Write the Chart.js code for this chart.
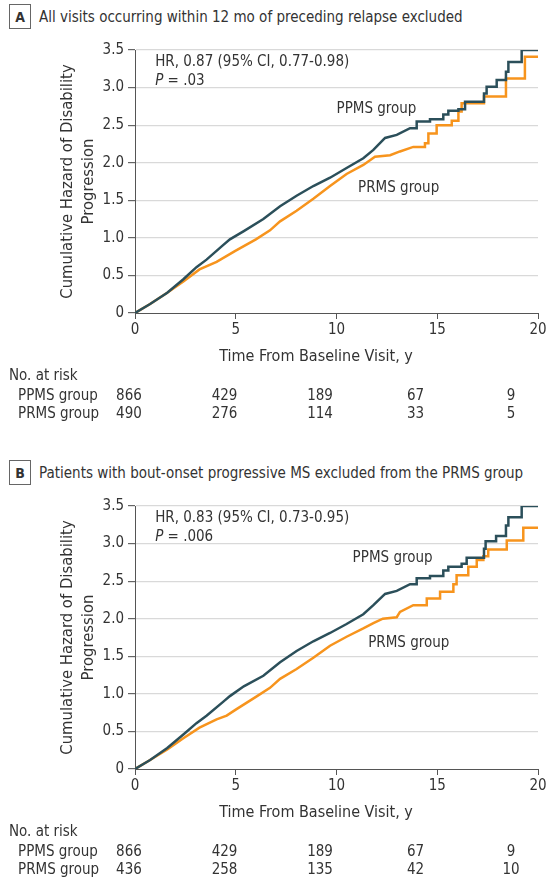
<!DOCTYPE html>
<html lang="en">
<head>
  <meta charset="utf-8">
  <title>Cumulative Hazard of Disability Progression</title>
  <script src="https://cdn.jsdelivr.net/npm/chart.js"></script>
  <style>
    body { margin: 0; width: 550px; height: 884px; background: #fff; color: #333; font-family: 'DejaVu Sans Condensed', 'DejaVu Sans', sans-serif; position: relative; overflow: hidden; }
    .panel { position: absolute; left: 0; width: 550px; height: 456px; }
    .panel canvas { position: absolute; left: 0; top: 0; }
    .head { position: absolute; left: 9px; top: 4px; height: 25px; display: flex; align-items: center; font-size: 15px; white-space: nowrap; }
    .tag { box-sizing: border-box; width: 22px; height: 25px; border: 1px solid #666; font-weight: bold; font-size: 14px; display: flex; align-items: center; justify-content: center; margin-right: 8px; }
  </style>
</head>
<body>
<div class="panel" style="top:0">
  <div class="head"><span class="tag">A</span>All visits occurring within 12 mo of preceding relapse excluded</div>
  <canvas id="chartA" width="550" height="456"></canvas>
</div>
<div class="panel" style="top:456px">
  <div class="head"><span class="tag">B</span>Patients with bout-onset progressive MS excluded from the PRMS group</div>
  <canvas id="chartB" width="550" height="456"></canvas>
</div>

<script>
// panel A: all visits within 12 mo of preceding relapse excluded
const ppmsA_t = [0, 0.75, 1.6, 2.4, 3.05, 3.55, 4.4, 4.71, 5.4, 6.37, 7.2, 8.02, 8.85, 9.68, 10.5, 11.33, 11.83, 12.41, 12.99, 13.65, 13.98, 14.64, 15.3, 15.55, 16.05, 16.38, 17.32, 17.45, 17.95, 18.41, 18.53, 19.19, 20];
const ppmsA_h = [0, 0.12, 0.27, 0.45, 0.61, 0.71, 0.91, 0.98, 1.09, 1.25, 1.42, 1.56, 1.69, 1.80, 1.93, 2.06, 2.17, 2.33, 2.37, 2.46, 2.55, 2.58, 2.64, 2.69, 2.71, 2.81, 2.92, 3.01, 3.10, 3.21, 3.34, 3.50, 3.50];
const prmsA_t = [0, 0.75, 1.6, 2.4, 3.2, 4.05, 5.0, 6.0, 6.7, 7.2, 8.02, 8.85, 9.68, 10.5, 11.33, 11.91, 12.66, 13.15, 13.81, 14.39, 14.56, 14.97, 15.72, 16.05, 16.21, 17.32, 18.41, 19.35, 20];
const prmsA_h = [0, 0.12, 0.27, 0.42, 0.58, 0.68, 0.83, 0.98, 1.10, 1.22, 1.36, 1.52, 1.69, 1.85, 1.97, 2.08, 2.10, 2.15, 2.21, 2.26, 2.39, 2.50, 2.56, 2.68, 2.79, 2.88, 3.12, 3.41, 3.41];

// panel B: bout-onset progressive MS excluded from PRMS
const ppmsB_t = [0, 0.75, 1.6, 2.4, 3.05, 3.55, 4.4, 4.71, 5.4, 6.37, 7.2, 8.02, 8.85, 9.68, 10.5, 11.33, 11.83, 12.41, 12.99, 13.65, 13.98, 14.64, 15.3, 15.55, 16.21, 16.46, 17.32, 17.4, 17.92, 18.41, 18.53, 19.19, 20];
const ppmsB_h = [0, 0.12, 0.28, 0.46, 0.61, 0.71, 0.90, 0.97, 1.10, 1.24, 1.42, 1.57, 1.70, 1.81, 1.93, 2.06, 2.18, 2.33, 2.37, 2.46, 2.54, 2.57, 2.64, 2.69, 2.73, 2.81, 2.93, 3.03, 3.10, 3.24, 3.35, 3.50, 3.50];
const prmsB_t = [0, 0.75, 1.6, 2.4, 3.2, 4.05, 4.55, 5.0, 6.0, 6.7, 7.2, 8.02, 8.85, 9.68, 10.5, 11.33, 11.83, 12.3, 12.99, 13.15, 13.81, 14.48, 15.14, 15.8, 15.96, 16.54, 16.96, 17.29, 17.53, 18.45, 19.27, 20];
const prmsB_h = [0, 0.12, 0.26, 0.41, 0.55, 0.66, 0.71, 0.79, 0.96, 1.08, 1.20, 1.33, 1.48, 1.64, 1.76, 1.87, 1.94, 2.00, 2.02, 2.09, 2.18, 2.27, 2.36, 2.46, 2.58, 2.69, 2.78, 2.83, 2.92, 3.04, 3.21, 3.21];

// number at risk
const riskTimes = [0, 5, 10, 15, 20];
const ppmsRiskA = [866, 429, 189, 67, 9];
const prmsRiskA = [490, 276, 114, 33, 5];
const ppmsRiskB = [866, 429, 189, 67, 9];
const prmsRiskB = [436, 258, 135, 42, 10];

const xTicks = [0, 5, 10, 15, 20];
const yTicks = [0, 0.5, 1.0, 1.5, 2.0, 2.5, 3.0, 3.5];

const FONT = "'DejaVu Sans Condensed', 'DejaVu Sans', sans-serif";
const TXT = '#333';
const PPMS_COLOR = '#2b4f5a';
const PRMS_COLOR = '#f7941d';

// linear through the dense early part, explicit steps once events thin out
function curve(t, h, stepFrom) {
  const pts = [];
  for (let i = 0; i < t.length; i++) {
    if (i > 0 && t[i] > stepFrom) pts.push({ x: t[i], y: h[i - 1] });
    pts.push({ x: t[i], y: h[i] });
  }
  return pts;
}

function makePanel(id, ppmsT, ppmsH, prmsT, prmsH, info) {
  const overlay = {
    id: 'overlay',
    afterDraw(chart) {
      const c = chart.ctx, x = chart.scales.x, y = chart.scales.y;
      const area = chart.chartArea;
      c.save();
      c.fillStyle = TXT;
      c.textBaseline = 'middle';
      c.font = '15px ' + FONT;

      // HR / P annotation
      c.textAlign = 'left';
      const hx = x.getPixelForValue(1);
      c.fillText(info.hr, hx, y.getPixelForValue(3.345));
      const py = y.getPixelForValue(3.09);
      c.font = 'italic 15px ' + FONT;
      c.fillText('P', hx, py);
      const pw = c.measureText('P').width;
      c.font = '15px ' + FONT;
      c.fillText(' = ' + info.p, hx + pw, py);

      // group labels
      c.fillText('PPMS group', x.getPixelForValue(info.ppmsLab[0]), y.getPixelForValue(info.ppmsLab[1]));
      c.fillText('PRMS group', x.getPixelForValue(info.prmsLab[0]), y.getPixelForValue(info.prmsLab[1]));

      // at-risk columns sit on a slightly narrower band than the axis
      const col = t => area.left - 6 + (x.getPixelForValue(t) - area.left) * 0.948;

      c.textAlign = 'center';
      c.font = '16px ' + FONT;
      c.fillText('Time From Baseline Visit, y', col(10) - 4, area.bottom + 44);
      c.font = '15px ' + FONT;

      c.textAlign = 'left';
      c.fillText('No. at risk', 9, area.bottom + 63);
      c.fillText('PPMS group', 18, area.bottom + 83);
      c.fillText('PRMS group', 18, area.bottom + 101);
      c.textAlign = 'center';
      riskTimes.forEach((t, i) => {
        c.fillText(String(info.ppmsRisk[i]), col(t), area.bottom + 83);
        c.fillText(String(info.prmsRisk[i]), col(t), area.bottom + 101);
      });
      c.restore();
    }
  };

  return new Chart(document.getElementById(id), {
    type: 'line',
    data: {
      datasets: [
        { label: 'PPMS group', data: curve(ppmsT, ppmsH, 13.9), borderColor: PPMS_COLOR, borderWidth: 2.5, pointRadius: 0, tension: 0 },
        { label: 'PRMS group', data: curve(prmsT, prmsH, 13.9), borderColor: PRMS_COLOR, borderWidth: 2.5, pointRadius: 0, tension: 0 }
      ]
    },
    options: {
      animation: false,
      responsive: false,
      devicePixelRatio: 1,
      layout: { padding: { left: 0, top: 50, right: 12, bottom: 119 } },
      plugins: { legend: { display: false }, tooltip: { enabled: false } },
      scales: {
        x: {
          type: 'linear', min: 0, max: 20,
          afterBuildTicks: s => { s.ticks = xTicks.map(v => ({ value: v })); },
          afterFit: s => { s.height = 24; },
          ticks: { color: TXT, font: { family: FONT, size: 15 }, padding: 2, maxRotation: 0 },
          grid: { drawOnChartArea: false, tickLength: 6, tickColor: '#555' },
          border: { color: '#555', width: 1 }
        },
        y: {
          min: 0, max: 3.5,
          afterBuildTicks: s => { s.ticks = yTicks.map(v => ({ value: v })); },
          afterFit: s => { s.width = 135; },
          ticks: { color: TXT, font: { family: FONT, size: 15 }, padding: 4, callback: v => v === 0 ? '0' : v.toFixed(1) },
          grid: { color: c => c.tick && c.tick.value === 0 ? 'rgba(0,0,0,0)' : '#d9d9d9', tickColor: '#666', tickLength: 7, lineWidth: 1.2 },
          border: { color: '#555', width: 1 },
          title: {
            display: true,
            text: ['Cumulative Hazard of Disability', 'Progression'],
            color: TXT,
            font: { family: FONT, size: 16.5, lineHeight: 1.27 },
            padding: { top: 57.5, bottom: 0 }
          }
        }
      }
    },
    plugins: [overlay]
  });
}

makePanel('chartA', ppmsA_t, ppmsA_h, prmsA_t, prmsA_h, {
  hr: 'HR, 0.87 (95% CI, 0.77-0.98)', p: '.03',
  ppmsLab: [10.0, 2.71], prmsLab: [11.07, 1.66],
  ppmsRisk: ppmsRiskA, prmsRisk: prmsRiskA
});
makePanel('chartB', ppmsB_t, ppmsB_h, prmsB_t, prmsB_h, {
  hr: 'HR, 0.83 (95% CI, 0.73-0.95)', p: '.006',
  ppmsLab: [10.8, 2.80], prmsLab: [11.57, 1.67],
  ppmsRisk: ppmsRiskB, prmsRisk: prmsRiskB
});
</script>
</body>
</html>
